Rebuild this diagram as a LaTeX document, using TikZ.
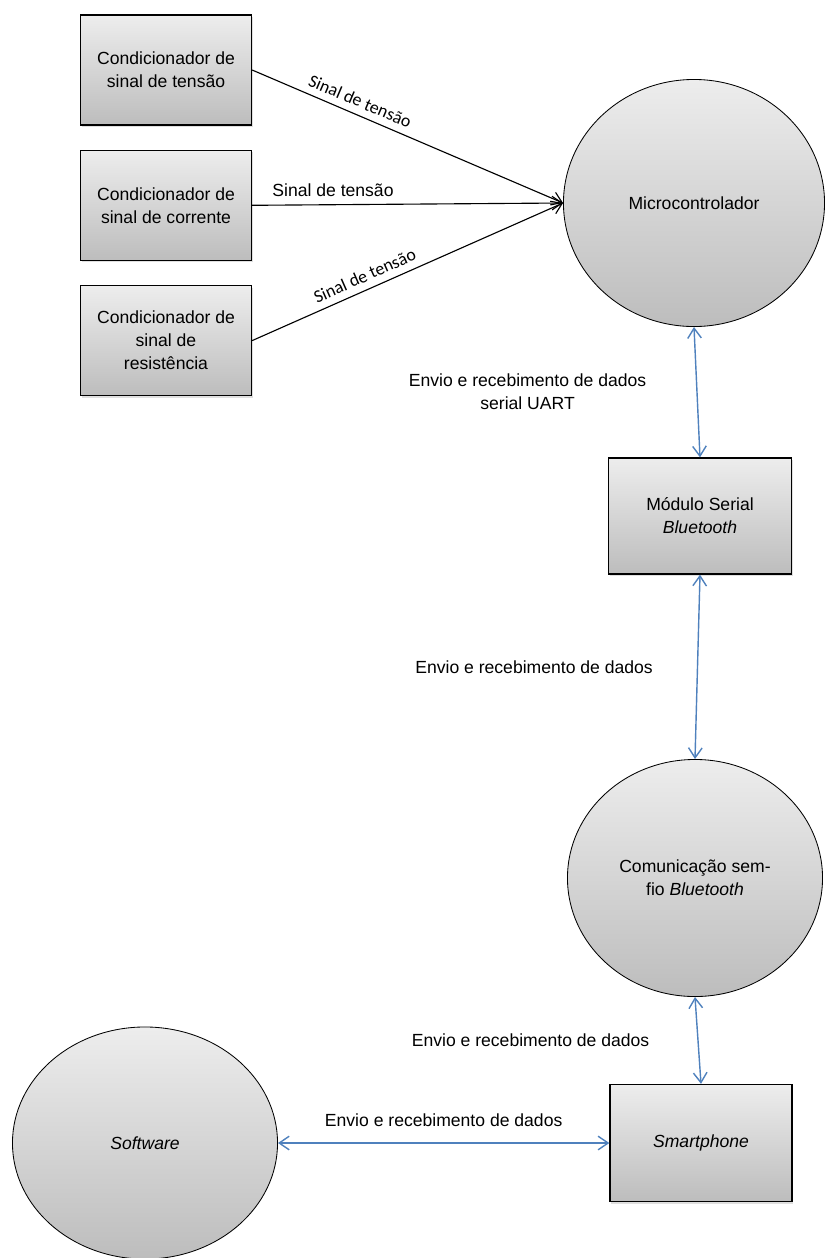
\documentclass[tikz,border=0pt]{standalone}
\usepackage{fontspec}
\setmainfont{Liberation Sans}
\newfontfamily\calibri{Carlito}
\usetikzlibrary{arrows.meta,positioning,shapes.geometric,shadows}

\definecolor{linkblue}{RGB}{79,129,189}

\begin{document}
\begin{tikzpicture}[
    x=0.025cm, y=-0.025cm,
    >={Straight Barb[length=2.5mm,width=3.4mm]},
    node distance=0.6cm,
    txt/.style={font=\fontsize{12.5}{16.4}\selectfont, align=center},
    block/.style={txt, draw, line width=0.9pt, top color=gray!14,
                  bottom color=gray!52, inner sep=2pt,
                  drop shadow={shadow xshift=1pt, shadow yshift=-1.5pt, opacity=0.25}},
    cond/.style={block, minimum width=4.275cm, minimum height=2.75cm},
    bubble/.style={txt, ellipse, draw, line width=0.6pt, top color=gray!14,
                   bottom color=gray!52, inner sep=0pt},
    sig/.style={->, line width=0.8pt},
    link/.style={<->, linkblue, line width=1pt},
    lbl/.style={txt, text=black, inner sep=0pt},
    slbl/.style={font=\calibri\fontsize{12.7}{15}\selectfont, inner sep=0pt}
]
    \useasboundingbox (0,0) rectangle (824,1258);

    \node[cond] (c1) at (166,70) {Condicionador de\\sinal de tensão};
    \node[cond, below=of c1] (c2) {Condicionador de\\sinal de corrente};
    \node[cond, below=of c2] (c3) {Condicionador de\\sinal de\\resistência};

    \node[bubble, minimum width=6.525cm, minimum height=6.175cm] (mcu)
        at (694,203) {Microcontrolador};
    \node[block, minimum width=4.575cm, minimum height=2.9cm] (module)
        at (700,516) {Módulo Serial\\\textit{Bluetooth}};
    \node[bubble, minimum width=6.375cm, minimum height=5.925cm] (wireless)
        at (695,878) {Comunicação sem-\\fio \textit{Bluetooth}};
    \node[block, minimum width=4.55cm, minimum height=2.925cm] (phone)
        at (701,1143) {\textit{Smartphone}};
    \node[bubble, minimum width=6.625cm, minimum height=5.8cm] (soft)
        at (145,1143) {\textit{Software}};

    \draw[sig] (c1.east) -- node[slbl, pos=0.33, sloped, above=5pt]
        {Sinal de tensão} (mcu.west);
    \draw[sig] (c2.east) -- node[lbl, pos=0.26, above=5pt]
        {Sinal de tensão} (mcu.west);
    \draw[sig] (c3.east) -- node[slbl, pos=0.38, sloped, above=5pt]
        {Sinal de tensão} (mcu.west);

    \draw[link] (mcu.south) -- node[lbl, left=1.25cm]
        {Envio e recebimento de dados\\serial UART} (module.north);
    \draw[link] (module.south) -- node[lbl, left=1.1cm]
        {Envio e recebimento de dados} (wireless.north);
    \draw[link] (wireless.south) -- node[lbl, left=1.2cm]
        {Envio e recebimento de dados} (phone.north);
    \draw[link] (soft.east) -- node[lbl, above=0.4cm]
        {Envio e recebimento de dados} (phone.west);
\end{tikzpicture}
\end{document}
